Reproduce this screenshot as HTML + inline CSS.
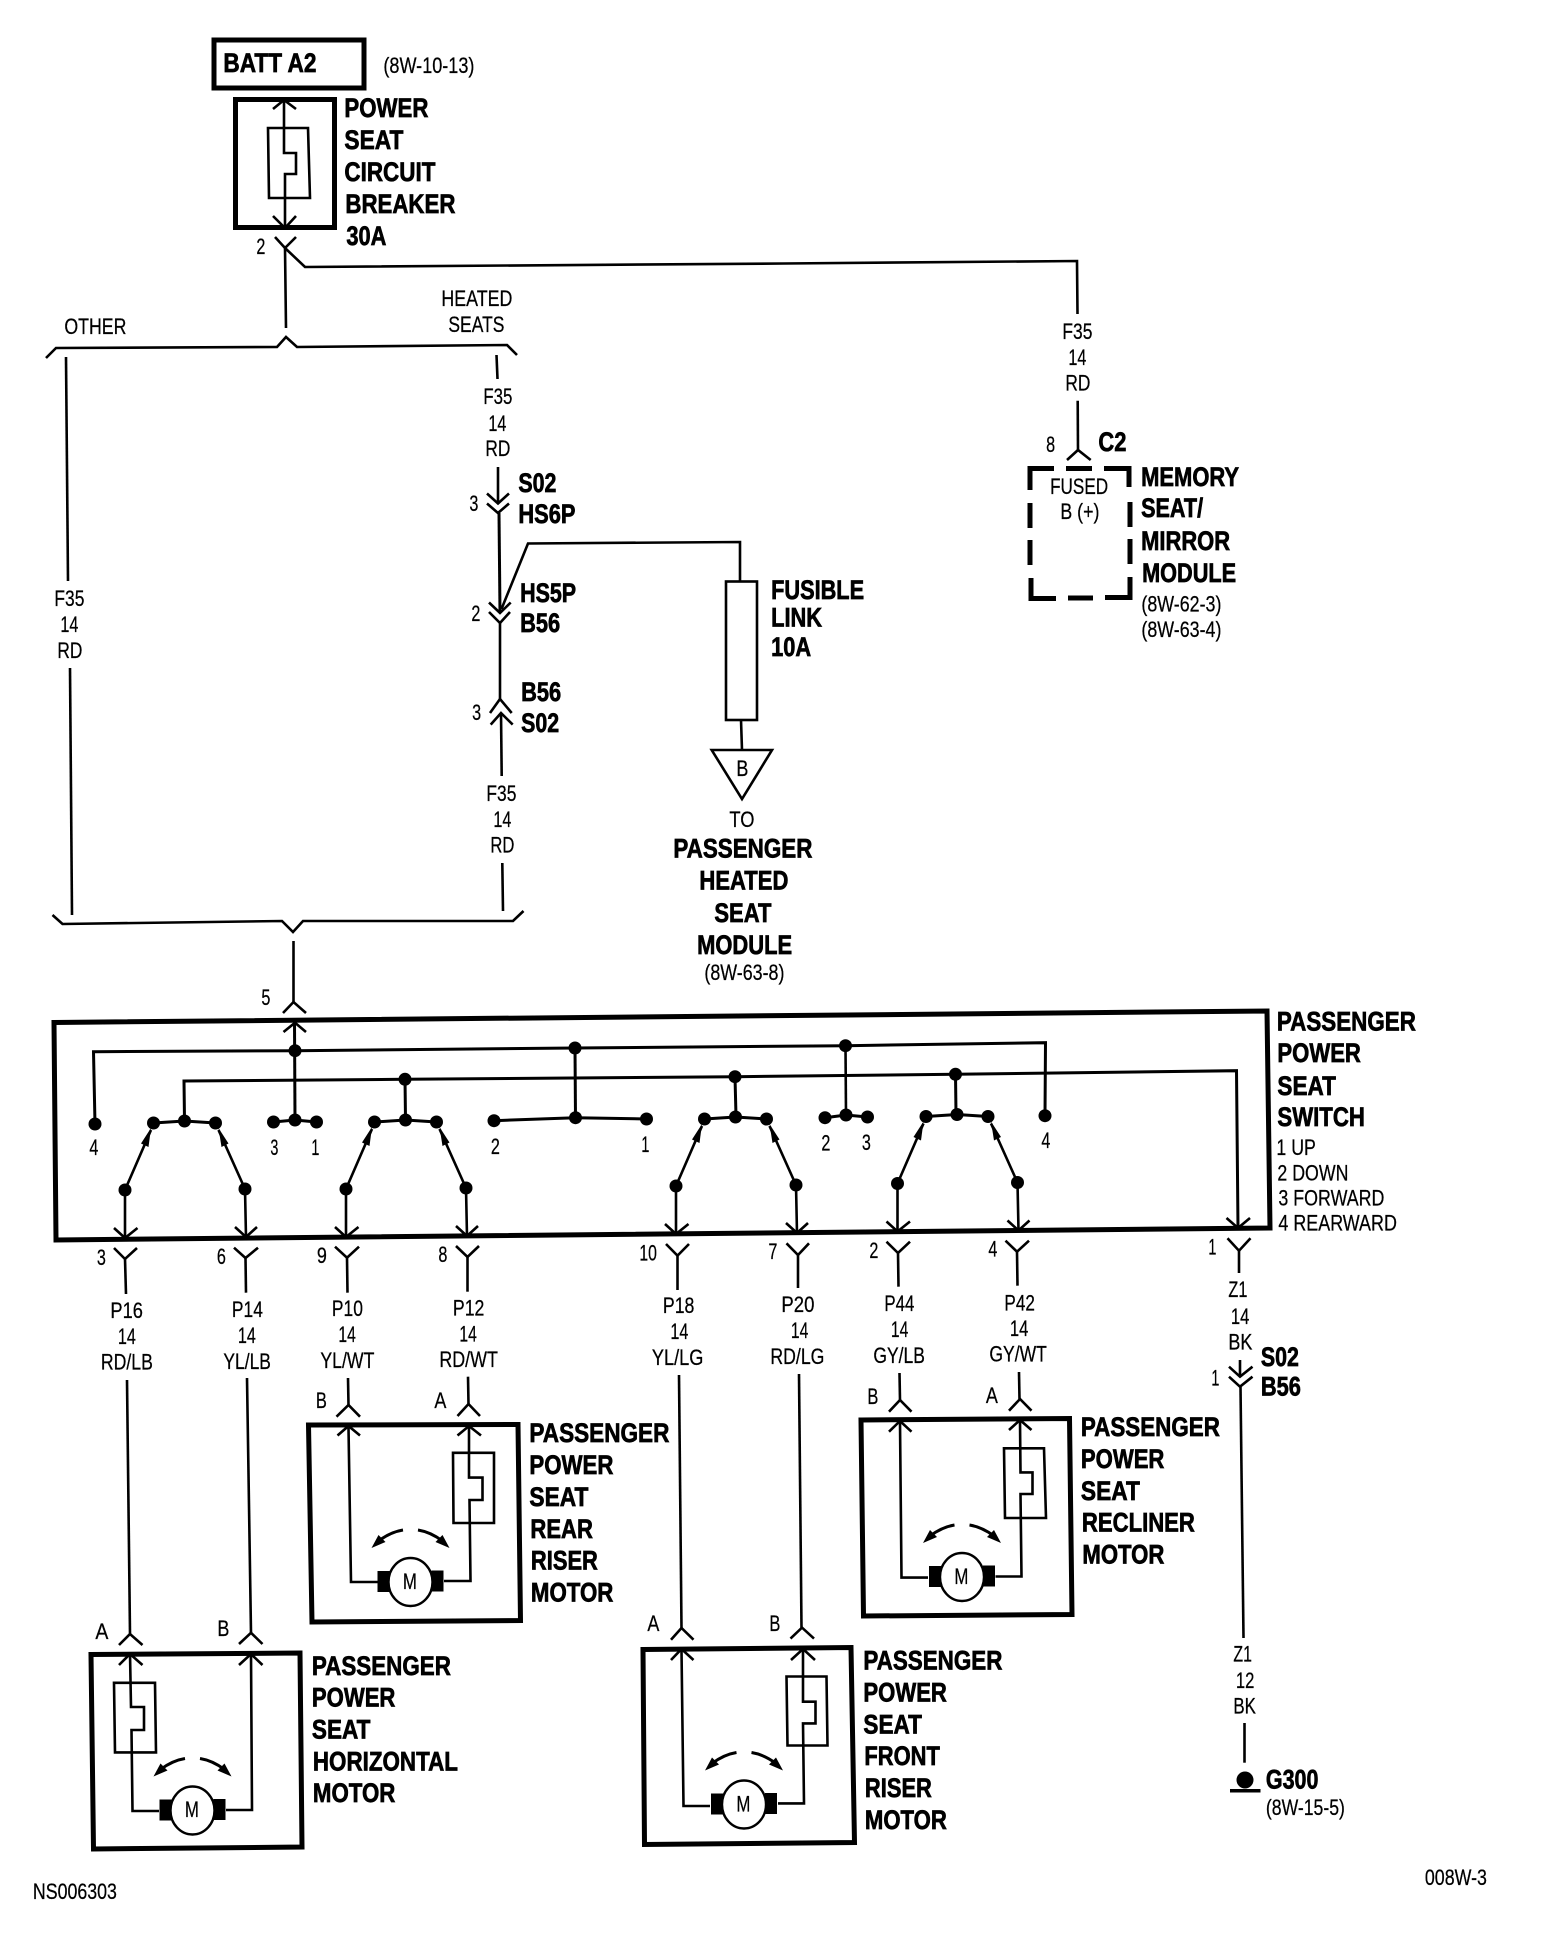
<!DOCTYPE html>
<html><head><meta charset="utf-8"><title>Power seat wiring diagram</title>
<style>
html,body{margin:0;padding:0;background:#fff}
svg{display:block}
text{fill:#000;font-family:"Liberation Sans",Arial,sans-serif;white-space:pre;transform:translate(-.6px,-1.2px)}
.b{font-weight:bold;font-size:26.5px;stroke:#000;stroke-width:.7px}
.r{font-size:22px;stroke:#000;stroke-width:.25px}
.w{fill:none;stroke:#000;stroke-width:2.6;stroke-linejoin:miter}
.h{fill:none;stroke:#000;stroke-width:5}
.f{fill:#000;stroke:none}
</style></head><body>
<svg xmlns="http://www.w3.org/2000/svg" width="1568" height="1940" viewBox="0 0 1568 1940">
<rect width="1568" height="1940" fill="#fff"/>
<defs>
<g id="sw">
<polyline class="w" style="stroke-width:3" points="153.5,1123 184.5,1121 215.5,1123"/>
<circle class="f" cx="153.5" cy="1123" r="6.5"/><circle class="f" cx="184.5" cy="1121" r="6.5"/><circle class="f" cx="215.5" cy="1123" r="6.5"/>
<circle class="f" cx="125" cy="1190" r="6.5"/><circle class="f" cx="245" cy="1189" r="6.5"/>
<polyline class="w" points="125,1238 125,1190 151,1130"/>
<polyline class="w" points="246,1237 245,1189 218.5,1130"/>
<polygon class="f" points="151,1128 148.5,1147 141,1143.5"/>
<polygon class="f" points="218.5,1128 228.5,1143.5 221.5,1147"/>
<polyline class="w" points="114,1228 125,1238 137.5,1228"/>
<polyline class="w" points="235,1227 246,1237 257,1227"/>
</g>
<g id="mo">
<rect class="f" x="-33" y="-11" width="12" height="21"/>
<rect class="f" x="21" y="-11.5" width="12" height="21"/>
<ellipse cx="0" cy="0" rx="22" ry="24" fill="#fff" stroke="#000" stroke-width="2.4"/>
<path class="w" style="stroke-width:3" d="M-7.5,-52 Q-20,-50 -32,-41"/>
<path class="w" style="stroke-width:3" d="M7.5,-52 Q20,-50 32,-41"/>
<polygon class="f" points="-39,-34 -32,-47 -25,-40"/>
<polygon class="f" points="39,-34 32,-47 25,-40"/>
</g>
</defs>

<!-- top -->
<rect x="214" y="40" width="150" height="48" class="h"/>
<text class="b" x="224" y="73" textLength="93" lengthAdjust="spacingAndGlyphs">BATT A2</text>
<text class="r" x="384" y="74" textLength="91" lengthAdjust="spacingAndGlyphs">(8W-10-13)</text>
<rect x="235.5" y="99.5" width="99" height="128" class="h"/>
<polyline class="w" points="284,100 284,153 296,153 296,174 285,174 285,228"/>
<polyline class="w" points="273,109 284,100 296,109"/>
<polyline class="w" points="273,216 285,228 296,216"/>
<polygon class="w" points="268,128 308,128 310,198 269,198"/>
<text class="b" x="345" y="118" textLength="84" lengthAdjust="spacingAndGlyphs">POWER</text>
<text class="b" x="345" y="150" textLength="59" lengthAdjust="spacingAndGlyphs">SEAT</text>
<text class="b" x="345" y="182" textLength="91" lengthAdjust="spacingAndGlyphs">CIRCUIT</text>
<text class="b" x="346" y="214" textLength="110" lengthAdjust="spacingAndGlyphs">BREAKER</text>
<text class="b" x="347" y="246" textLength="40" lengthAdjust="spacingAndGlyphs">30A</text>
<text class="r" x="257" y="255" textLength="9" lengthAdjust="spacingAndGlyphs">2</text>
<polyline class="w" points="275,237 285,248 296,237"/>
<polyline class="w" points="286,328 285,248 305,267 784,263.5 1077,261 1077.5,314"/>
<text class="r" x="65" y="335" textLength="62" lengthAdjust="spacingAndGlyphs">OTHER</text>
<text class="r" x="442" y="307" textLength="71" lengthAdjust="spacingAndGlyphs">HEATED</text>
<text class="r" x="449" y="333" textLength="56" lengthAdjust="spacingAndGlyphs">SEATS</text>
<polyline class="w" points="46,358 56,348 277,347 286,337 297,347 507,345 517,355"/>
<polyline class="w" points="66,357 68,581"/>
<text class="r" x="55" y="607" textLength="30" lengthAdjust="spacingAndGlyphs">F35</text>
<text class="r" x="61" y="633" textLength="18" lengthAdjust="spacingAndGlyphs">14</text>
<text class="r" x="58" y="659" textLength="25" lengthAdjust="spacingAndGlyphs">RD</text>
<polyline class="w" points="70,668 72,915"/>
<polyline class="w" points="52.5,915 62.5,924 282,921 293,932 303,921 513,921 523.5,911"/>
<polyline class="w" points="293.5,941 293.5,1002"/>
<polyline class="w" points="283,1013 293.5,1002 306,1013"/>
<text class="r" x="262" y="1006" textLength="9" lengthAdjust="spacingAndGlyphs">5</text>

<!-- heated branch -->
<polyline class="w" points="496.5,355 497.5,379"/>
<text class="r" x="484" y="405" textLength="29" lengthAdjust="spacingAndGlyphs">F35</text>
<text class="r" x="489" y="432" textLength="18" lengthAdjust="spacingAndGlyphs">14</text>
<text class="r" x="486" y="457" textLength="25" lengthAdjust="spacingAndGlyphs">RD</text>
<polyline class="w" points="498,467 498,503.5"/>
<polyline class="w" points="487,493.5 498,503.5 509,493.5"/>
<polyline class="w" points="487,503.5 498,513 509,503.5"/>
<polyline class="w" style="stroke-width:3" points="499,513 500,613"/>
<text class="b" x="519" y="493" textLength="38" lengthAdjust="spacingAndGlyphs">S02</text>
<text class="b" x="519" y="524" textLength="57" lengthAdjust="spacingAndGlyphs">HS6P</text>
<text class="r" x="470" y="512" textLength="9" lengthAdjust="spacingAndGlyphs">3</text>
<polyline class="w" points="501.5,609 528,543.5 740,542 740,581"/>
<polyline class="w" points="489,602.5 500,613 510.7,602.5"/>
<polyline class="w" points="489,612 500,623 510,612"/>
<polyline class="w" points="500,623 500,699"/>
<text class="b" x="520.7" y="603" textLength="56" lengthAdjust="spacingAndGlyphs">HS5P</text>
<text class="b" x="520.7" y="633" textLength="40" lengthAdjust="spacingAndGlyphs">B56</text>
<text class="r" x="472" y="622" textLength="9" lengthAdjust="spacingAndGlyphs">2</text>
<polyline class="w" points="490,713 500,699 511.7,713"/>
<polyline class="w" points="490.7,724.6 501,713 512.7,724.6"/>
<polyline class="w" points="501,713 501.7,776"/>
<text class="b" x="521.7" y="702" textLength="40" lengthAdjust="spacingAndGlyphs">B56</text>
<text class="b" x="521.7" y="733" textLength="38" lengthAdjust="spacingAndGlyphs">S02</text>
<text class="r" x="472.7" y="721" textLength="9" lengthAdjust="spacingAndGlyphs">3</text>
<text class="r" x="487" y="802" textLength="30" lengthAdjust="spacingAndGlyphs">F35</text>
<text class="r" x="494" y="828" textLength="18" lengthAdjust="spacingAndGlyphs">14</text>
<text class="r" x="491" y="853.6" textLength="24" lengthAdjust="spacingAndGlyphs">RD</text>
<polyline class="w" points="502.3,863 503,911"/>
<rect x="726" y="581.5" width="31" height="138.5" class="w"/>
<polyline class="w" points="741,720 742,750"/>
<polygon class="w" points="711.7,750 772,750 742,799"/>
<text class="r" x="737" y="777" textLength="12" lengthAdjust="spacingAndGlyphs">B</text>
<text class="b" x="771.7" y="600" textLength="93" lengthAdjust="spacingAndGlyphs">FUSIBLE</text>
<text class="b" x="771.7" y="627.5" textLength="51" lengthAdjust="spacingAndGlyphs">LINK</text>
<text class="b" x="771.7" y="657" textLength="40" lengthAdjust="spacingAndGlyphs">10A</text>
<text class="r" x="730" y="828" textLength="25" lengthAdjust="spacingAndGlyphs">TO</text>
<text class="b" x="674" y="858.5" textLength="139" lengthAdjust="spacingAndGlyphs">PASSENGER</text>
<text class="b" x="700" y="890.7" textLength="89" lengthAdjust="spacingAndGlyphs">HEATED</text>
<text class="b" x="715" y="923" textLength="57" lengthAdjust="spacingAndGlyphs">SEAT</text>
<text class="b" x="697.7" y="955" textLength="95" lengthAdjust="spacingAndGlyphs">MODULE</text>
<text class="r" x="705" y="981" textLength="80" lengthAdjust="spacingAndGlyphs">(8W-63-8)</text>

<!-- memory module -->
<text class="r" x="1063" y="340" textLength="30" lengthAdjust="spacingAndGlyphs">F35</text>
<text class="r" x="1069" y="366" textLength="18" lengthAdjust="spacingAndGlyphs">14</text>
<text class="r" x="1066" y="391.7" textLength="25" lengthAdjust="spacingAndGlyphs">RD</text>
<polyline class="w" points="1077.7,400.7 1078,450"/>
<polyline class="w" points="1067,460 1078,450 1090.7,460"/>
<text class="r" x="1046.7" y="453" textLength="9" lengthAdjust="spacingAndGlyphs">8</text>
<text class="b" x="1099" y="452" textLength="28" lengthAdjust="spacingAndGlyphs">C2</text>
<path class="h" d="M1054,468.5H1030V490M1066,468.5H1092M1104,468.5H1129V487M1030,503V528M1030,540V565M1031,578V598.5H1056M1068,598H1093M1105,597.5H1130V577M1130,564V539M1130,527V502"/>
<text class="r" x="1050.7" y="495" textLength="58" lengthAdjust="spacingAndGlyphs">FUSED</text>
<text class="r" x="1061" y="520" textLength="39" lengthAdjust="spacingAndGlyphs">B (+)</text>
<text class="b" x="1141.7" y="487" textLength="98" lengthAdjust="spacingAndGlyphs">MEMORY</text>
<text class="b" x="1141.7" y="518" textLength="62" lengthAdjust="spacingAndGlyphs">SEAT/</text>
<text class="b" x="1141.7" y="551" textLength="89" lengthAdjust="spacingAndGlyphs">MIRROR</text>
<text class="b" x="1142.7" y="583" textLength="94" lengthAdjust="spacingAndGlyphs">MODULE</text>
<text class="r" x="1142" y="612.7" textLength="80" lengthAdjust="spacingAndGlyphs">(8W-62-3)</text>
<text class="r" x="1142" y="638" textLength="80" lengthAdjust="spacingAndGlyphs">(8W-63-4)</text>

<!-- switch -->
<polygon class="h" points="54,1022.5 1267,1011 1270,1228 56,1240"/>
<polyline class="w" points="283.5,1032 295,1022.7 306,1032"/>
<polyline class="w" style="stroke-width:3" points="294.5,1022.7 295,1120"/>
<polyline class="w" style="stroke-width:3" points="95,1124 93.5,1051.7 295,1050.7 575,1048 845.5,1045.7 1045.5,1042.7 1045,1115"/>
<polyline class="w" style="stroke-width:3" points="184.5,1120 184,1081 405,1079.3 735,1076.7 955.5,1074.3 1236.5,1070.7 1238,1228"/>
<polyline class="w" points="1226.5,1218 1238,1228 1250,1218"/>
<circle class="f" cx="295" cy="1050.7" r="6.5"/><circle class="f" cx="575" cy="1048" r="6.5"/><circle class="f" cx="845.5" cy="1045.7" r="6.5"/>
<circle class="f" cx="405" cy="1079.3" r="6.5"/><circle class="f" cx="735" cy="1076.7" r="6.5"/><circle class="f" cx="955.5" cy="1074.3" r="6.5"/>
<circle class="f" cx="95" cy="1124" r="6.5"/><circle class="f" cx="1045" cy="1115.7" r="6.5"/>
<use href="#sw"/>
<use href="#sw" transform="translate(221,-1)"/>
<use href="#sw" transform="translate(551,-4)"/>
<use href="#sw" transform="translate(772.5,-6.5)"/>
<polyline class="w" style="stroke-width:3" points="405,1079 405.5,1119"/>
<polyline class="w" style="stroke-width:3" points="735,1077 736,1116"/>
<polyline class="w" style="stroke-width:3" points="955.5,1074 956,1114"/>
<polyline class="w" style="stroke-width:3" points="273.5,1122 295,1120 316.5,1122"/>
<circle class="f" cx="273.5" cy="1122" r="6.5"/><circle class="f" cx="295" cy="1120" r="6.5"/><circle class="f" cx="316.5" cy="1122" r="6.5"/>
<polyline class="w" style="stroke-width:3" points="494,1120.7 575.5,1117.7 646.5,1119"/>
<polyline class="w" style="stroke-width:3" points="575,1048 575.5,1118"/>
<circle class="f" cx="494" cy="1120.7" r="6.5"/><circle class="f" cx="575.5" cy="1117.7" r="6.5"/><circle class="f" cx="646.5" cy="1119" r="6.5"/>
<polyline class="w" style="stroke-width:3" points="825,1117.7 846,1115 867.5,1117"/>
<polyline class="w" points="845.5,1046 846,1115"/>
<circle class="f" cx="825" cy="1117.7" r="6.5"/><circle class="f" cx="846" cy="1115" r="6.5"/><circle class="f" cx="867.5" cy="1117" r="6.5"/>
<text class="r" x="90" y="1156" textLength="9" lengthAdjust="spacingAndGlyphs">4</text>
<text class="r" x="271" y="1156" textLength="8" lengthAdjust="spacingAndGlyphs">3</text>
<text class="r" x="312" y="1156" textLength="8" lengthAdjust="spacingAndGlyphs">1</text>
<text class="r" x="491.5" y="1155" textLength="9" lengthAdjust="spacingAndGlyphs">2</text>
<text class="r" x="642" y="1153" textLength="8" lengthAdjust="spacingAndGlyphs">1</text>
<text class="r" x="822" y="1151.7" textLength="9" lengthAdjust="spacingAndGlyphs">2</text>
<text class="r" x="862.5" y="1151" textLength="9" lengthAdjust="spacingAndGlyphs">3</text>
<text class="r" x="1042" y="1149" textLength="9" lengthAdjust="spacingAndGlyphs">4</text>
<text class="b" x="1277.5" y="1031.7" textLength="139" lengthAdjust="spacingAndGlyphs">PASSENGER</text>
<text class="b" x="1278" y="1063" textLength="83.5" lengthAdjust="spacingAndGlyphs">POWER</text>
<text class="b" x="1278" y="1096" textLength="58.5" lengthAdjust="spacingAndGlyphs">SEAT</text>
<text class="b" x="1278" y="1127" textLength="87.5" lengthAdjust="spacingAndGlyphs">SWITCH</text>
<text class="r" x="1277" y="1156" textLength="39.5" lengthAdjust="spacingAndGlyphs">1 UP</text>
<text class="r" x="1278" y="1181.7" textLength="71" lengthAdjust="spacingAndGlyphs">2 DOWN</text>
<text class="r" x="1279" y="1206.7" textLength="106" lengthAdjust="spacingAndGlyphs">3 FORWARD</text>
<text class="r" x="1279" y="1231.7" textLength="118.5" lengthAdjust="spacingAndGlyphs">4 REARWARD</text>

<!-- lower connectors & wires -->
<g>
<text class="r" x="97.5" y="1266" textLength="9" lengthAdjust="spacingAndGlyphs">3</text>
<polyline class="w" points="114,1248 125,1259 137,1248"/><polyline class="w" points="125,1259 126,1294"/>
<text class="r" x="111" y="1319" textLength="32.5" lengthAdjust="spacingAndGlyphs">P16</text>
<text class="r" x="118.5" y="1345" textLength="18" lengthAdjust="spacingAndGlyphs">14</text>
<text class="r" x="101.5" y="1370.7" textLength="52" lengthAdjust="spacingAndGlyphs">RD/LB</text>
<polyline class="w" points="127,1380 130,1634"/>
<polyline class="w" points="119,1645 130,1634 142.5,1645"/>
<text class="r" x="96" y="1640" textLength="13" lengthAdjust="spacingAndGlyphs">A</text>

<text class="r" x="217.5" y="1265" textLength="9" lengthAdjust="spacingAndGlyphs">6</text>
<polyline class="w" points="234,1247.7 245.5,1258 258,1247.7"/><polyline class="w" points="245.5,1258 246,1292.7"/>
<text class="r" x="232.5" y="1318" textLength="31" lengthAdjust="spacingAndGlyphs">P14</text>
<text class="r" x="238.5" y="1344" textLength="18" lengthAdjust="spacingAndGlyphs">14</text>
<text class="r" x="224" y="1370" textLength="47.5" lengthAdjust="spacingAndGlyphs">YL/LB</text>
<polyline class="w" points="247,1378 251,1632.8"/>
<polyline class="w" points="239,1644 251,1632.8 262.5,1644"/>
<text class="r" x="218" y="1637" textLength="12" lengthAdjust="spacingAndGlyphs">B</text>

<text class="r" x="317.5" y="1264" textLength="10" lengthAdjust="spacingAndGlyphs">9</text>
<polyline class="w" points="335,1246.7 347,1257.7 359,1246.7"/><polyline class="w" points="347,1257.7 347.5,1292.7"/>
<text class="r" x="332.5" y="1317" textLength="31" lengthAdjust="spacingAndGlyphs">P10</text>
<text class="r" x="339" y="1343" textLength="17.5" lengthAdjust="spacingAndGlyphs">14</text>
<text class="r" x="321" y="1369" textLength="54" lengthAdjust="spacingAndGlyphs">YL/WT</text>
<polyline class="w" points="348,1378 348.5,1405"/>
<polyline class="w" points="336.5,1416.7 348.5,1405 360,1416.7"/>
<text class="r" x="316.5" y="1409" textLength="11" lengthAdjust="spacingAndGlyphs">B</text>

<text class="r" x="439" y="1263" textLength="9" lengthAdjust="spacingAndGlyphs">8</text>
<polyline class="w" points="456,1246 467.5,1257 479,1246"/><polyline class="w" points="467.5,1257 467.5,1291.7"/>
<text class="r" x="453.5" y="1316.7" textLength="31.5" lengthAdjust="spacingAndGlyphs">P12</text>
<text class="r" x="460" y="1342.7" textLength="17.5" lengthAdjust="spacingAndGlyphs">14</text>
<text class="r" x="440" y="1368" textLength="58.5" lengthAdjust="spacingAndGlyphs">RD/WT</text>
<polyline class="w" points="468,1376.7 468.5,1404"/>
<polyline class="w" points="457.5,1416 468.5,1404 480,1416"/>
<text class="r" x="435" y="1409" textLength="12" lengthAdjust="spacingAndGlyphs">A</text>

<text class="r" x="640" y="1261.7" textLength="17.5" lengthAdjust="spacingAndGlyphs">10</text>
<polyline class="w" points="666,1244 677.5,1255.7 689,1244"/><polyline class="w" points="677.5,1255.7 677.5,1290"/>
<text class="r" x="663.5" y="1314" textLength="31.5" lengthAdjust="spacingAndGlyphs">P18</text>
<text class="r" x="671" y="1340" textLength="18" lengthAdjust="spacingAndGlyphs">14</text>
<text class="r" x="652.5" y="1366" textLength="51.5" lengthAdjust="spacingAndGlyphs">YL/LG</text>
<polyline class="w" points="679,1375 681.5,1628"/>
<polyline class="w" points="671,1639.7 681.5,1628 693.5,1639.7"/>
<text class="r" x="648" y="1632" textLength="12" lengthAdjust="spacingAndGlyphs">A</text>

<text class="r" x="769" y="1260" textLength="9" lengthAdjust="spacingAndGlyphs">7</text>
<polyline class="w" points="786.5,1243.3 798,1255 809,1243.3"/><polyline class="w" points="798,1255 798,1288"/>
<text class="r" x="782" y="1313" textLength="33" lengthAdjust="spacingAndGlyphs">P20</text>
<text class="r" x="791.5" y="1339" textLength="17.5" lengthAdjust="spacingAndGlyphs">14</text>
<text class="r" x="771" y="1365" textLength="54" lengthAdjust="spacingAndGlyphs">RD/LG</text>
<polyline class="w" points="799,1374 801.5,1627.6"/>
<polyline class="w" points="790.5,1638.6 802,1627.6 814,1638.6"/>
<text class="r" x="770" y="1632" textLength="11" lengthAdjust="spacingAndGlyphs">B</text>

<text class="r" x="870" y="1259" textLength="9" lengthAdjust="spacingAndGlyphs">2</text>
<polyline class="w" points="886.5,1241.7 898,1253 910,1241.7"/><polyline class="w" points="898,1253 898.5,1286.7"/>
<text class="r" x="885" y="1312" textLength="30" lengthAdjust="spacingAndGlyphs">P44</text>
<text class="r" x="891.5" y="1338" textLength="17.5" lengthAdjust="spacingAndGlyphs">14</text>
<text class="r" x="874" y="1364" textLength="51.5" lengthAdjust="spacingAndGlyphs">GY/LB</text>
<polyline class="w" points="899.5,1373 900,1400"/>
<polyline class="w" points="889,1411.7 900,1400 911.5,1411.7"/>
<text class="r" x="868" y="1405" textLength="11" lengthAdjust="spacingAndGlyphs">B</text>

<text class="r" x="989" y="1257.7" textLength="9" lengthAdjust="spacingAndGlyphs">4</text>
<polyline class="w" points="1005.5,1240.7 1017,1251.7 1029,1240.7"/><polyline class="w" points="1017,1251.7 1017.5,1285.7"/>
<text class="r" x="1005" y="1311.7" textLength="30.5" lengthAdjust="spacingAndGlyphs">P42</text>
<text class="r" x="1010.5" y="1337" textLength="18.5" lengthAdjust="spacingAndGlyphs">14</text>
<text class="r" x="990" y="1362.7" textLength="57.5" lengthAdjust="spacingAndGlyphs">GY/WT</text>
<polyline class="w" points="1019,1372 1019.5,1399"/>
<polyline class="w" points="1009,1410.7 1020,1399 1031.5,1410.7"/>
<text class="r" x="986.5" y="1404" textLength="12" lengthAdjust="spacingAndGlyphs">A</text>

<text class="r" x="1209" y="1255.7" textLength="8" lengthAdjust="spacingAndGlyphs">1</text>
<polyline class="w" points="1227.5,1238.3 1239,1250.7 1250.5,1238.3"/><polyline class="w" points="1239,1250.7 1239,1273"/>
<text class="r" x="1229" y="1298" textLength="19" lengthAdjust="spacingAndGlyphs">Z1</text>
<text class="r" x="1231.5" y="1325" textLength="18.5" lengthAdjust="spacingAndGlyphs">14</text>
<text class="r" x="1229" y="1350.7" textLength="24" lengthAdjust="spacingAndGlyphs">BK</text>
<polyline class="w" points="1240,1360 1240,1376.7"/>
<polyline class="w" points="1229,1366.7 1240,1376.7 1252.5,1366.7"/>
<polyline class="w" points="1229,1376.7 1240,1386.7 1252.5,1376.7"/>
<text class="r" x="1212" y="1386.7" textLength="8" lengthAdjust="spacingAndGlyphs">1</text>
<text class="b" x="1261.5" y="1367" textLength="38" lengthAdjust="spacingAndGlyphs">S02</text>
<text class="b" x="1261.5" y="1396.7" textLength="40" lengthAdjust="spacingAndGlyphs">B56</text>
<polyline class="w" points="1240.5,1386.7 1243.5,1638"/>
<text class="r" x="1234" y="1662.8" textLength="18.5" lengthAdjust="spacingAndGlyphs">Z1</text>
<text class="r" x="1236.5" y="1689" textLength="18.5" lengthAdjust="spacingAndGlyphs">12</text>
<text class="r" x="1234" y="1714.5" textLength="22.5" lengthAdjust="spacingAndGlyphs">BK</text>
<polyline class="w" points="1244.5,1723 1244.5,1762.7"/>
<circle class="f" cx="1245" cy="1780" r="8.5"/>
<rect class="f" x="1230" y="1789" width="30.5" height="3.5"/>
<text class="b" x="1266.5" y="1789.7" textLength="52.5" lengthAdjust="spacingAndGlyphs">G300</text>
<text class="r" x="1266.5" y="1816" textLength="79" lengthAdjust="spacingAndGlyphs">(8W-15-5)</text>
<text class="r" x="1425.5" y="1886" textLength="62" lengthAdjust="spacingAndGlyphs">008W-3</text>
<text class="r" x="33.5" y="1900" textLength="84" lengthAdjust="spacingAndGlyphs">NS006303</text>
</g>

<!-- rear riser -->
<polygon class="h" points="308.5,1425 518,1424.5 520.5,1620.5 312,1622"/>
<polyline class="w" points="348.5,1427.6 351,1582 378,1582"/>
<polyline class="w" points="337.5,1435.5 348.5,1426 360,1435.5"/>
<polyline class="w" points="469,1426 469,1477.6 482.5,1477.6 482.5,1500 469.5,1500 470.5,1581 444,1581"/>
<polyline class="w" points="457.5,1435.5 469,1426 481,1435.5"/>
<polygon class="w" points="453,1452.8 494,1452.8 494,1523 453.5,1523"/>
<use href="#mo" transform="translate(410.5,1582)"/>
<text class="r" x="403.5" y="1590" textLength="14" lengthAdjust="spacingAndGlyphs">M</text>
<text class="b" x="530" y="1443" textLength="140" lengthAdjust="spacingAndGlyphs">PASSENGER</text>
<text class="b" x="530" y="1475" textLength="84" lengthAdjust="spacingAndGlyphs">POWER</text>
<text class="b" x="530" y="1507" textLength="59" lengthAdjust="spacingAndGlyphs">SEAT</text>
<text class="b" x="531" y="1539" textLength="62.5" lengthAdjust="spacingAndGlyphs">REAR</text>
<text class="b" x="531.5" y="1570.7" textLength="67" lengthAdjust="spacingAndGlyphs">RISER</text>
<text class="b" x="531.5" y="1602.7" textLength="82.5" lengthAdjust="spacingAndGlyphs">MOTOR</text>

<!-- horizontal -->
<polygon class="h" points="91,1654.5 300,1653 302,1847 93.5,1849"/>
<polyline class="w" points="130,1653.4 131,1707 144,1707 144,1730 131.5,1730 132.5,1811 159,1811"/>
<polyline class="w" points="119,1665 130,1654 142.5,1665"/>
<polyline class="w" points="251,1654.5 252,1810 226,1810"/>
<polyline class="w" points="239,1665 251,1654 262.5,1665"/>
<polygon class="w" points="114,1682.8 155,1682.8 156,1752.4 115,1752.4"/>
<use href="#mo" transform="translate(192.5,1810.5)"/>
<text class="r" x="185.5" y="1818" textLength="14" lengthAdjust="spacingAndGlyphs">M</text>
<text class="b" x="312.5" y="1676" textLength="139" lengthAdjust="spacingAndGlyphs">PASSENGER</text>
<text class="b" x="312.5" y="1707.6" textLength="83.5" lengthAdjust="spacingAndGlyphs">POWER</text>
<text class="b" x="312.5" y="1739.7" textLength="58.5" lengthAdjust="spacingAndGlyphs">SEAT</text>
<text class="b" x="313.5" y="1771.7" textLength="145" lengthAdjust="spacingAndGlyphs">HORIZONTAL</text>
<text class="b" x="313.5" y="1803.4" textLength="82.5" lengthAdjust="spacingAndGlyphs">MOTOR</text>

<!-- front riser -->
<polygon class="h" points="643,1649.5 851,1647.5 854.5,1842.5 644.5,1844.5"/>
<polyline class="w" points="681.5,1650 683.5,1806 710,1806"/>
<polyline class="w" points="671,1660 681.5,1649 693.5,1660"/>
<polyline class="w" points="803,1650 803,1701.7 815.5,1701.7 815.5,1723.4 803,1723.4 804,1803.4 778,1803.4"/>
<polyline class="w" points="791,1660 803,1649 815,1660"/>
<polygon class="w" points="786.5,1676.5 826.5,1676.5 827.5,1745.5 787.5,1745.5"/>
<use href="#mo" transform="translate(744,1804.5)"/>
<text class="r" x="737" y="1812.8" textLength="14" lengthAdjust="spacingAndGlyphs">M</text>
<text class="b" x="864" y="1670.7" textLength="139" lengthAdjust="spacingAndGlyphs">PASSENGER</text>
<text class="b" x="864" y="1702.8" textLength="83.5" lengthAdjust="spacingAndGlyphs">POWER</text>
<text class="b" x="864" y="1734.5" textLength="58.5" lengthAdjust="spacingAndGlyphs">SEAT</text>
<text class="b" x="865" y="1766" textLength="75.5" lengthAdjust="spacingAndGlyphs">FRONT</text>
<text class="b" x="865.5" y="1798.3" textLength="67" lengthAdjust="spacingAndGlyphs">RISER</text>
<text class="b" x="865.5" y="1830" textLength="82" lengthAdjust="spacingAndGlyphs">MOTOR</text>

<!-- recliner -->
<polygon class="h" points="861,1420 1069.5,1418.5 1072,1614.5 863.5,1616"/>
<polyline class="w" points="900,1422.4 901.5,1577.6 928,1577.6"/>
<polyline class="w" points="889,1431.7 900,1421 911.5,1431.7"/>
<polyline class="w" points="1020,1420.7 1020.5,1472.4 1032.5,1472.4 1032.5,1494 1020.5,1494 1021.5,1576.5 995.5,1576.5"/>
<polyline class="w" points="1009,1430 1020,1420 1031.5,1430"/>
<polygon class="w" points="1004,1448.3 1044,1448.3 1046,1518 1005,1518"/>
<use href="#mo" transform="translate(962,1577)"/>
<text class="r" x="955" y="1585" textLength="14" lengthAdjust="spacingAndGlyphs">M</text>
<text class="b" x="1081.5" y="1437" textLength="139" lengthAdjust="spacingAndGlyphs">PASSENGER</text>
<text class="b" x="1081.5" y="1469" textLength="83.5" lengthAdjust="spacingAndGlyphs">POWER</text>
<text class="b" x="1081.5" y="1501" textLength="59" lengthAdjust="spacingAndGlyphs">SEAT</text>
<text class="b" x="1082.5" y="1532.8" textLength="113" lengthAdjust="spacingAndGlyphs">RECLINER</text>
<text class="b" x="1083" y="1564.8" textLength="82" lengthAdjust="spacingAndGlyphs">MOTOR</text>
</svg>
</body></html>
